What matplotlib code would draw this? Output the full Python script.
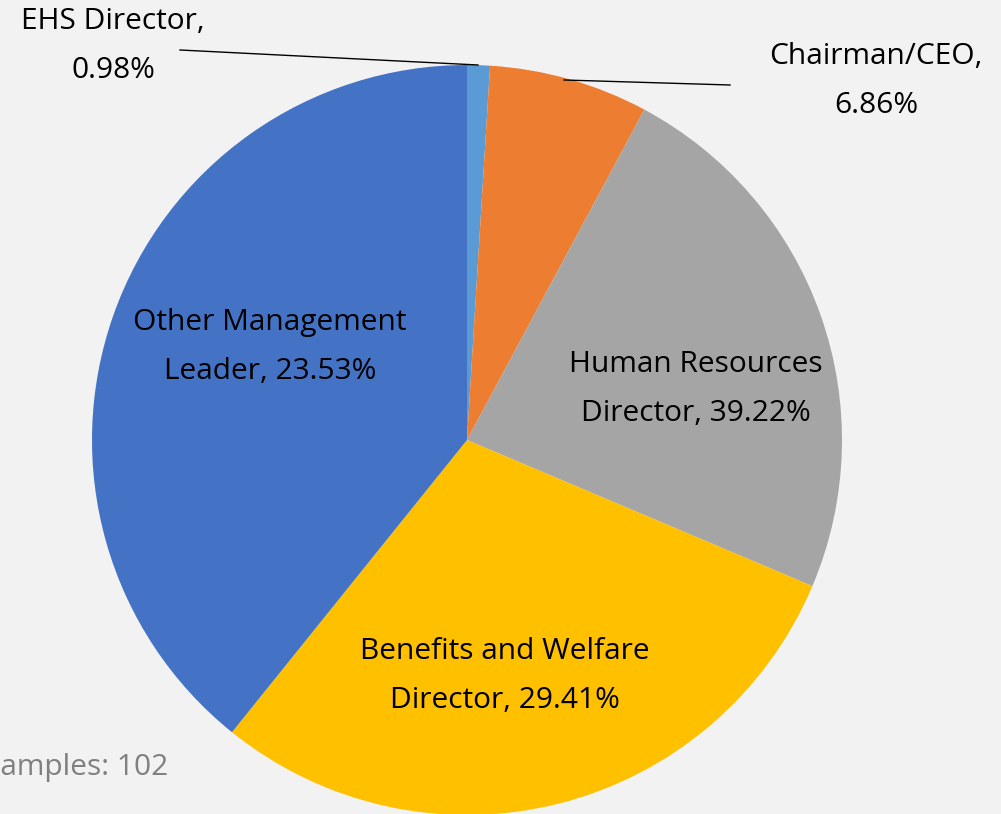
import matplotlib
matplotlib.use("Agg")
import matplotlib.pyplot as plt

plt.rcParams['font.family'] = ['Open Sans', 'DejaVu Sans']

# slices clockwise from 12 o'clock
values = [0.98, 6.86, 23.53, 29.41, 39.22]
labels = ["EHS Director,\n0.98%",
          "Chairman/CEO,\n6.86%",
          "Human Resources\nDirector, 39.22%",
          "Benefits and Welfare\nDirector, 29.41%",
          "Other Management\nLeader, 23.53%"]
colors = ['#5B9BD5', '#ED7D31', '#A5A5A5', '#FFC000', '#4472C4']
samples = 102

W, H = 1001, 814
fig = plt.figure(figsize=(W / 100, H / 100), dpi=100, facecolor='#F2F2F2')
ax = fig.add_axes([0, 0, 1, 1])

cx, cy, r = 467, H - 440, 375
ax.pie(values, colors=colors, startangle=90, counterclock=False,
       center=(cx, cy), radius=r, frame=True,
       wedgeprops=dict(linewidth=0))
ax.set_xlim(0, W)
ax.set_ylim(0, H)
ax.axis('off')

# label positions (pixel coords, top-left origin)
label_pos = [(113, 46), (876, 81), (696, 389), (505, 676), (270, 347)]
for txt, (x, y) in zip(labels, label_pos):
    ax.text(x, H - y, txt, ha='center', va='center', fontsize=21.5,
            linespacing=1.92, color='black')

# leader lines
ax.plot([180, 478], [H - 50, H - 65], color='black', lw=1)
ax.plot([564, 730], [H - 80, H - 85], color='black', lw=1)

ax.text(168, H - 768, f"Samples: {samples}", ha='right', va='center',
        fontsize=21.5, color='#808080')

fig.savefig('out.png', dpi=100, facecolor=fig.get_facecolor())
